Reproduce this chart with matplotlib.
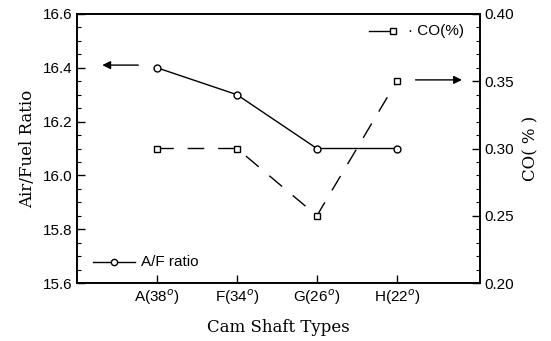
import numpy as np
import matplotlib.pyplot as plt
from matplotlib.ticker import MultipleLocator

cams = ['A(38$^o$)', 'F(34$^o$)', 'G(26$^o$)', 'H(22$^o$)']
af_ratio = [16.4, 16.3, 16.1, 16.1]
co_pct = [0.30, 0.30, 0.25, 0.35]

x = np.arange(1, len(cams) + 1)

fig = plt.figure(figsize=(5.51, 3.41), dpi=100)
ax = fig.add_axes([0.14, 0.17, 0.731, 0.789])
ax2 = ax.twinx()

tick_font = dict(family='Liberation Sans', size=11)
label_font = dict(family='DejaVu Serif', size=12)

# A/F ratio, solid line with open circles
ax.plot(x, af_ratio, color='black', lw=1.0, marker='o', ms=5,
        mfc='white', mec='black', mew=1.0, zorder=3)
# CO, long dashes with open squares
ax2.plot(x, co_pct, color='black', lw=1.0, marker='s', ms=5,
         mfc='white', mec='black', mew=1.0, dashes=(12, 10))

ax.set_xlim(0, 5.04)

ax.set_xticks(x)
ax.set_xticklabels(cams, fontdict=tick_font)
ax.set_yticks([15.6, 15.8, 16.0, 16.2, 16.4, 16.6])
ax.set_yticklabels(['15.6', '15.8', '16.0', '16.2', '16.4', '16.6'], fontdict=tick_font)
ax2.set_yticks([0.20, 0.25, 0.30, 0.35, 0.40])
ax2.set_yticklabels(['0.20', '0.25', '0.30', '0.35', '0.40'], fontdict=tick_font)
ax.yaxis.set_minor_locator(MultipleLocator(0.05))
ax2.yaxis.set_minor_locator(MultipleLocator(0.01))
ax.set_ylim(15.6, 16.6)
ax2.set_ylim(0.20, 0.40)

for a in (ax, ax2):
    a.tick_params(which='both', direction='in', top=False)
    a.tick_params(which='major', length=6, width=1.0, pad=3)
    a.tick_params(which='minor', length=3, width=0.8)
    for s in a.spines.values():
        s.set_linewidth(1.2)
ax.tick_params(axis='y', right=False)
ax2.tick_params(axis='y', left=False)

ax.set_ylabel('Air/Fuel Ratio', fontdict=label_font, labelpad=5)
ax2.set_ylabel('CO( % )', fontdict=label_font, labelpad=6)
ax.set_xlabel('Cam Shaft Types', fontdict=label_font, labelpad=9)

# arrows pointing to the matching axis
ax.annotate('', xy=(0.28, 16.41), xytext=(0.8, 16.41),
            arrowprops=dict(arrowstyle='-|>', color='black', lw=1.0, mutation_scale=12))
ax2.annotate('', xy=(4.85, 0.351), xytext=(4.2, 0.351),
             arrowprops=dict(arrowstyle='-|>', color='black', lw=1.0, mutation_scale=12))

# legends
ax.plot([0.2, 0.72], [15.68, 15.68], color='black', lw=1.0)
ax.plot([0.46], [15.68], marker='o', ms=4.5, mfc='white', mec='black', color='black')
ax.text(0.8, 15.68, 'A/F ratio', fontdict=dict(family='Liberation Sans', size=11),
        va='center', ha='left')
ax2.plot([3.65, 3.95], [0.387, 0.387], color='black', lw=1.0)
ax2.plot([3.95], [0.387], marker='s', ms=4.5, mfc='white', mec='black', color='black')
ax2.text(4.14, 0.387, '· CO(%)', fontdict=dict(family='Liberation Sans', size=11),
         va='center', ha='left')

fig.savefig('out.png', dpi=100)
